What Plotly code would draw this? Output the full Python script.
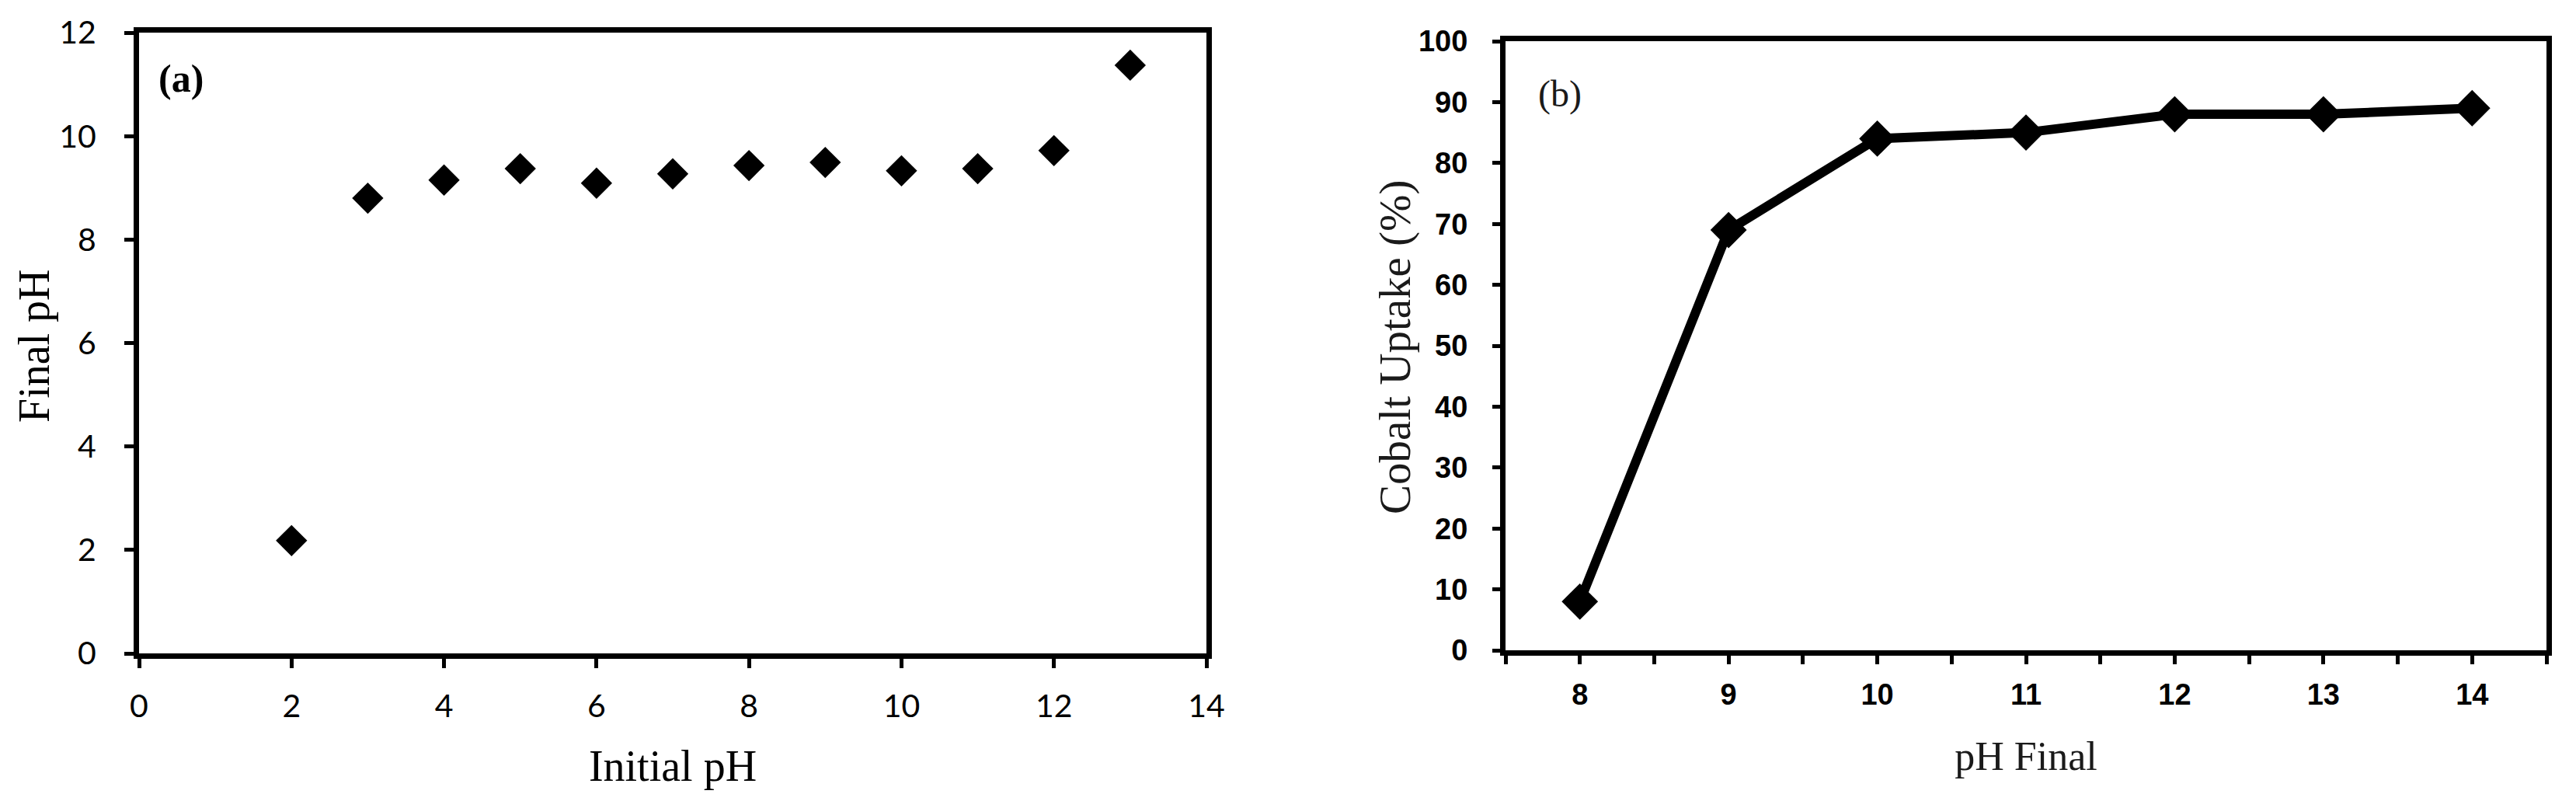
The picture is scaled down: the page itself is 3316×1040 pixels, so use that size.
import plotly.graph_objects as go

# panel (a): final pH vs initial pH
initial_ph = [2, 3, 4, 5, 6, 7, 8, 9, 10, 11, 12, 13]
final_ph = [2.18, 8.8, 9.15, 9.37, 9.09, 9.27, 9.43, 9.49, 9.33, 9.37, 9.72, 11.37]

# panel (b): cobalt uptake vs final pH
ph_final = [8, 9, 10, 11, 12, 13, 14]
cobalt_uptake = [8, 69, 84, 85, 88, 88, 89]

a_xticks = [0, 2, 4, 6, 8, 10, 12, 14]
a_yticks = [0, 2, 4, 6, 8, 10, 12]
b_xticks = [8, 9, 10, 11, 12, 13, 14]
b_minor = [7.5, 8.5, 9.5, 10.5, 11.5, 12.5, 13.5, 14.5]
b_yticks = [0, 10, 20, 30, 40, 50, 60, 70, 80, 90, 100]

W, H = 3316, 1040
OFF = 8  # page body margin


def px(x):
    return (x - OFF) / W


def py(y):
    return 1 - (y - OFF) / H


fig = go.Figure()

fig.add_trace(go.Scatter(
    x=initial_ph, y=final_ph, mode='markers',
    marker=dict(symbol='diamond', size=31, color='black'),
    xaxis='x', yaxis='y', showlegend=False
))

fig.add_trace(go.Scatter(
    x=ph_final, y=cobalt_uptake, mode='lines+markers',
    line=dict(color='black', width=12),
    marker=dict(symbol='diamond', size=36, color='black'),
    xaxis='x2', yaxis='y2', showlegend=False
))

serif = 'Liberation Serif, Times New Roman, serif'
tickfont_a = dict(family='Lato, Open Sans, sans-serif', size=41, color='black')
tickfont_b = dict(family='Liberation Sans, Arial, sans-serif', size=38, color='black', weight='bold')

axis_common = dict(showgrid=False, zeroline=False, showline=True, linecolor='black',
                   linewidth=7, mirror=True, ticks='outside', tickcolor='black',
                   automargin=False)

fig.update_layout(
    template='none',
    width=W, height=H,
    margin=dict(l=0, r=0, t=0, b=0, autoexpand=False),
    paper_bgcolor='white', plot_bgcolor='white',
    xaxis=dict(axis_common, domain=[px(179), px(1553)], range=[0, 14],
               tickvals=a_xticks, ticklen=12, tickwidth=5,
               tickfont=tickfont_a, ticklabelstandoff=14,
               title=dict(text='Initial pH', font=dict(family=serif, size=56, color='black'),
                          standoff=37)),
    yaxis=dict(axis_common, domain=[py(841), py(42)], range=[0, 12],
               tickvals=a_yticks, ticklen=12, tickwidth=5,
               tickfont=tickfont_a, ticklabelstandoff=28),
    xaxis2=dict(axis_common, anchor='y2', domain=[px(1938), px(3278)], range=[7.5, 14.5],
                tickvals=b_xticks, ticklen=11, tickwidth=5,
                minor=dict(tickvals=b_minor, ticks='outside', ticklen=11, tickwidth=5,
                           tickcolor='black'),
                tickfont=tickfont_b, ticklabelstandoff=6,
                title=dict(text='pH Final', font=dict(family=serif, size=52, color='#1a1a1a'),
                           standoff=44)),
    yaxis2=dict(axis_common, anchor='x2', domain=[py(837), py(53)], range=[0, 100],
                tickvals=b_yticks, ticklen=10, tickwidth=5,
                tickfont=tickfont_b, ticklabelstandoff=24),
    annotations=[
        # y-axis titles
        dict(text='Final pH', x=px(44), y=py(445), xref='paper', yref='paper',
             xanchor='center', yanchor='middle', textangle=-90, showarrow=False,
             font=dict(family=serif, size=56, color='black')),
        dict(text='Cobalt Uptake (%)', x=px(1796), y=py(446), xref='paper', yref='paper',
             xanchor='center', yanchor='middle', textangle=-90, showarrow=False,
             font=dict(family=serif, size=57, color='#1a1a1a')),
        # panel labels
        dict(text='<b>(a)</b>', x=px(233), y=py(101), xref='paper', yref='paper',
             xanchor='center', yanchor='middle', showarrow=False,
             font=dict(family=serif, size=50, color='black')),
        dict(text='(b)', x=px(2008), y=py(121), xref='paper', yref='paper',
             xanchor='center', yanchor='middle', showarrow=False,
             font=dict(family=serif, size=48, color='#1a1a1a')),
    ],
)

fig.write_html("out.html")
